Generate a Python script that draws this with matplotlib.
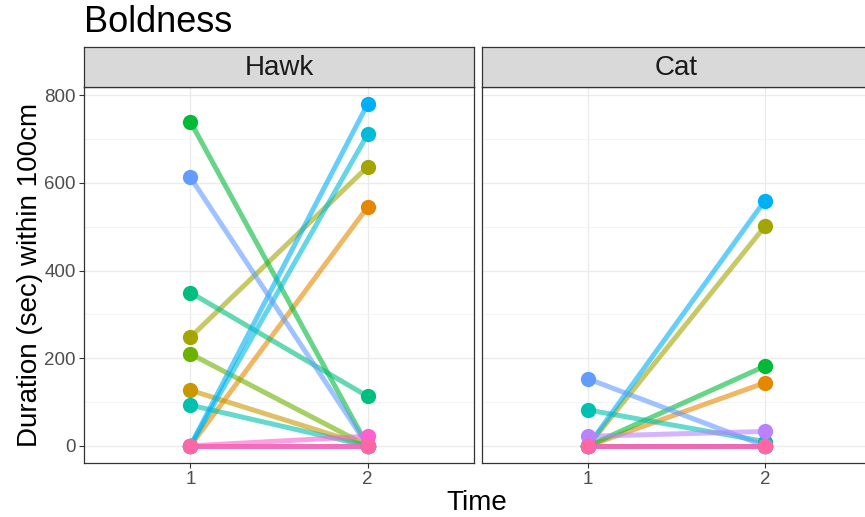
import matplotlib
matplotlib.use("Agg")
import matplotlib.pyplot as plt

plt.rcParams['font.family'] = ['Liberation Sans', 'DejaVu Sans']

# one entry per individual (ggplot hue palette, 15 levels)
ids = ['A', 'B', 'C', 'D', 'E', 'F', 'G', 'H', 'I', 'J', 'K', 'L', 'M', 'N', 'O']
colors = ['#F8766D', '#E58700', '#C99800', '#A3A500', '#6BB100', '#00BA38', '#00BF7D',
          '#00C0AF', '#00BCD8', '#00B0F6', '#619CFF', '#B983FF', '#E76BF3', '#FD61D1', '#FF67A4']
hawk_t1 = [0, 0, 127, 248, 210, 740, 350, 93, 0, 0, 613, 0, 0, 0, 0]
hawk_t2 = [0, 545, 0, 637, 0, 0, 113, 0, 711, 780, 0, 0, 0, 22, 0]
cat_t1 = [0, 0, 0, 0, 0, 0, 0, 82, 0, 0, 153, 22, 0, 0, 0]
cat_t2 = [0, 144, 0, 501, 0, 182, 0, 10, 0, 560, 0, 33, 0, 0, 0]
times = [1, 2]
panels = ['Hawk', 'Cat']

W, H = 865, 517
fig = plt.figure(figsize=(W / 100, H / 100), dpi=100)

def fx(px):
    return px / W

def fy(px):
    return 1 - px / H

panel_x = [(84, 474), (482, 871)]
top, bottom = 87, 463
strip_top = 47

data = {'Hawk': (hawk_t1, hawk_t2), 'Cat': (cat_t1, cat_t2)}

for i, name in enumerate(panels):
    x0, x1 = panel_x[i]
    ax = fig.add_axes([fx(x0), fy(bottom), fx(x1 - x0), fy(top) - fy(bottom)])
    t1, t2 = data[name]
    for k in range(len(ids)):
        ax.plot(times, [t1[k], t2[k]], color=colors[k], lw=3.6, alpha=0.6,
                solid_capstyle='butt', zorder=2)
    for k in range(len(ids)):
        ax.plot(times, [t1[k], t2[k]], 'o', color=colors[k], ms=11, mec='none', zorder=3)
    ax.set_xlim(0.4, 2.6)
    ax.set_ylim(-39, 819)
    ax.set_xticks(times)
    ax.set_yticks([0, 200, 400, 600, 800])
    ax.set_yticks([100, 300, 500, 700], minor=True)
    ax.grid(True, which='major', color='#EBEBEB', lw=1.0)
    ax.grid(True, which='minor', axis='y', color='#F2F2F2', lw=0.6)
    ax.set_axisbelow(True)
    for s in ax.spines.values():
        s.set_color('#333333')
        s.set_linewidth(0.9)
    ax.tick_params(which='major', length=3.5, width=0.8, color='#333333',
                   labelsize=13.5, labelcolor='#4D4D4D', pad=2.5)
    ax.tick_params(which='minor', length=0)
    if i > 0:
        ax.tick_params(axis='y', labelleft=False, length=0)

    sax = fig.add_axes([fx(x0), fy(top), fx(x1 - x0), fy(strip_top) - fy(top)])
    sax.set_facecolor('#D9D9D9')
    sax.set_xticks([])
    sax.set_yticks([])
    for s in sax.spines.values():
        s.set_color('#333333')
        s.set_linewidth(0.9)
    sax.text(0.5, 0.48, name, ha='center', va='center', fontsize=20,
             color='#1A1A1A', transform=sax.transAxes)

fig.text(fx(84), fy(32), 'Boldness', fontsize=26, ha='left', va='baseline')
fig.text(fx(477), fy(503), 'Time', fontsize=20, ha='center', va='center')
fig.text(fx(30), fy(275), 'Duration (sec) within 100cm', fontsize=20,
         ha='center', va='center', rotation=90)

fig.savefig('out.png', dpi=100)
